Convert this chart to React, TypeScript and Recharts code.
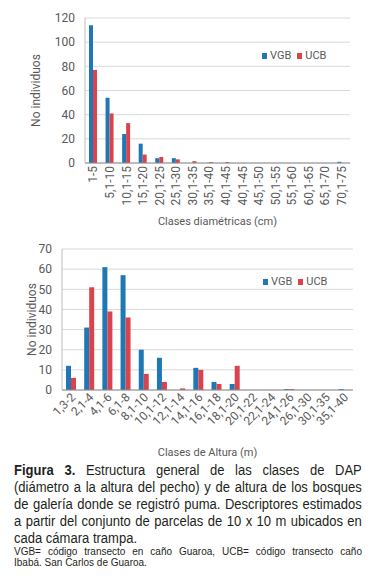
import React from 'react';
import { BarChart, Bar, XAxis, YAxis, CartesianGrid, Legend } from 'recharts';

const dapClasses = ['1-5', '5,1-10', '10,1-15', '15,1-20', '20,1-25', '25,1-30', '30,1-35', '35,1-40', '40,1-45', '40,1-45', '45,1-50', '50,1-55', '55,1-60', '60,1-65', '65,1-70', '70,1-75'];
const dapVGB = [114, 54, 24, 16, 4, 4, 0, 0, 0, 0, 0, 0, 0, 0, 0, 1];
const dapUCB = [77, 41, 33, 7, 5, 3, 1.5, 0.8, 0.8, 0, 0, 0, 0, 0, 0, 0];
const dapTicks = [0, 20, 40, 60, 80, 100, 120];

const altClasses = ['1,3-2', '2,1-4', '4,1-6', '6,1-8', '8,1-10', '10,1-12', '12,1-14', '14,1-16', '16,1-18', '18,1-20', '20,1-22', '22,1-24', '24,1-26', '26,1-30', '30,1-35', '35,1-40'];
const altVGB = [12, 31, 61, 57, 20, 16, 0, 11, 4, 3, 0, 0, 0.5, 0, 0, 0.5];
const altUCB = [6, 51, 39, 36, 8, 4, 0.8, 10, 3, 12, 0, 0, 0.5, 0, 0, 0];
const altTicks = [0, 10, 20, 30, 40, 50, 60, 70];

const seriesNames = ['VGB', 'UCB'];

const FONT = "Roboto, 'Liberation Sans', sans-serif";
const TXT = '#595959';
const BLUE = '#1f78b5';
const RED = '#d9444c';
const COLORS: Record<string, string> = { VGB: BLUE, UCB: RED };

const dapData = dapClasses.map((c, i) => ({ name: c, VGB: dapVGB[i], UCB: dapUCB[i] }));
const altData = altClasses.map((c, i) => ({ name: c, VGB: altVGB[i], UCB: altUCB[i] }));

const VerticalTick = (props: any) => {
  const { x, y, payload } = props;
  return (
    <g transform={`translate(${x},${y})`}>
      <text x={0} y={0} dy="0.35em" textAnchor="end" transform="rotate(-90)" fill={TXT} fontSize={12} fontFamily={FONT}>
        {payload.value}
      </text>
    </g>
  );
};

const SlantTick = (props: any) => {
  const { x, y, payload } = props;
  return (
    <g transform={`translate(${x},${y})`}>
      <text x={0} y={0} dy="0.6em" textAnchor="end" transform="rotate(-45)" fill={TXT} fontSize={12} fontFamily={FONT}>
        {payload.value}
      </text>
    </g>
  );
};

const LegendBox = () => (
  <div style={{ display: 'flex', alignItems: 'center', fontSize: 11, fontFamily: FONT, color: TXT, lineHeight: '13px' }}>
    {seriesNames.map((s) => (
      <span key={s} style={{ display: 'flex', alignItems: 'center', marginRight: 6 }}>
        <span style={{ display: 'inline-block', width: 5, height: 6, background: COLORS[s], marginRight: 3 }} />
        {s}
      </span>
    ))}
  </div>
);

const captionLine: React.CSSProperties = { textAlign: 'justify', textAlignLast: 'justify', whiteSpace: 'nowrap' };

const App: React.FC = () => {
  return (
    <div style={{ position: 'absolute', left: 0, top: 0, width: 378, height: 576, background: '#fff' }}>
      <BarChart width={378} height={230} data={dapData} margin={{ top: 18, right: 28, left: 0, bottom: 0 }} barGap={0} barSize={4}>
        <CartesianGrid vertical={false} stroke="#d9d9d9" />
        <XAxis
          dataKey="name"
          interval={0}
          height={67}
          tick={<VerticalTick />}
          tickLine={false}
          tickSize={0}
          tickMargin={3}
          stroke="#8c8c8c"
          label={{ value: 'Clases diamétricas (cm)', position: 'insideBottom', offset: 5, fill: TXT, fontSize: 11, fontFamily: FONT }}
        />
        <YAxis
          domain={[0, 120]}
          ticks={dapTicks}
          interval={0}
          width={85}
          tickLine={false}
          tickSize={0}
          tickMargin={10}
          stroke="#bfbfbf"
          tick={{ fill: TXT, fontSize: 12, fontFamily: FONT }}
          label={{ value: 'No individuos', angle: -90, position: 'insideLeft', offset: 36, fill: TXT, fontSize: 12, fontFamily: FONT, style: { textAnchor: 'middle' } }}
        />
        <Legend
          layout="horizontal"
          align="center"
          verticalAlign="middle"
          content={() => <LegendBox />}
          wrapperStyle={{ top: 49, left: 262, width: 'auto' }}
        />
        <Bar dataKey="VGB" fill={BLUE} isAnimationActive={false} />
        <Bar dataKey="UCB" fill={RED} isAnimationActive={false} />
      </BarChart>
      <BarChart width={378} height={230} data={altData} margin={{ top: 19, right: 25, left: 0, bottom: 0 }} barGap={0} barSize={5}>
        <CartesianGrid vertical={false} stroke="#d9d9d9" />
        <XAxis
          dataKey="name"
          interval={0}
          height={70}
          tick={<SlantTick />}
          tickLine={false}
          tickSize={0}
          tickMargin={3}
          stroke="#8c8c8c"
          label={{ value: 'Clases de Altura (m)', position: 'insideBottom', offset: 4, fill: TXT, fontSize: 11, fontFamily: FONT }}
        />
        <YAxis
          domain={[0, 70]}
          ticks={altTicks}
          interval={0}
          width={62}
          tickLine={false}
          tickSize={0}
          tickMargin={10}
          stroke="#bfbfbf"
          tick={{ fill: TXT, fontSize: 12, fontFamily: FONT }}
          label={{ value: 'No individuos', angle: -90, position: 'insideLeft', offset: 32, fill: TXT, fontSize: 12, fontFamily: FONT, style: { textAnchor: 'middle' } }}
        />
        <Legend
          layout="horizontal"
          align="center"
          verticalAlign="middle"
          content={() => <LegendBox />}
          wrapperStyle={{ top: 45, left: 263, width: 'auto' }}
        />
        <Bar dataKey="VGB" fill={BLUE} isAnimationActive={false} />
        <Bar dataKey="UCB" fill={RED} isAnimationActive={false} />
      </BarChart>
      <div
        style={{
          position: 'absolute',
          left: 14,
          top: 462,
          width: 374,
          transform: 'scaleX(0.93)',
          transformOrigin: 'left top',
          fontFamily: "'Liberation Sans', Arial, sans-serif",
          fontSize: 14,
          lineHeight: '17px',
          color: '#231f20',
        }}
      >
        <div style={captionLine}>
          <b>Figura 3.</b> Estructura general de las clases de DAP
        </div>
        <div style={captionLine}>(diámetro a la altura del pecho) y de altura de los bosques</div>
        <div style={captionLine}>de galería donde se registró puma. Descriptores estimados</div>
        <div style={captionLine}>a partir del conjunto de parcelas de 10 x 10 m ubicados en</div>
        <div style={{ whiteSpace: 'nowrap' }}>cada cámara trampa.</div>
      </div>
      <div
        style={{
          position: 'absolute',
          left: 14,
          top: 547,
          width: 348,
          fontFamily: "'Liberation Sans', Arial, sans-serif",
          fontSize: 10,
          lineHeight: '10.5px',
          color: '#231f20',
        }}
      >
        <div style={captionLine}>VGB= código transecto en caño Guaroa, UCB= código transecto caño</div>
        <div style={{ whiteSpace: 'nowrap' }}>Ibabá. San Carlos de Guaroa.</div>
      </div>
    </div>
  );
};

export default App;
